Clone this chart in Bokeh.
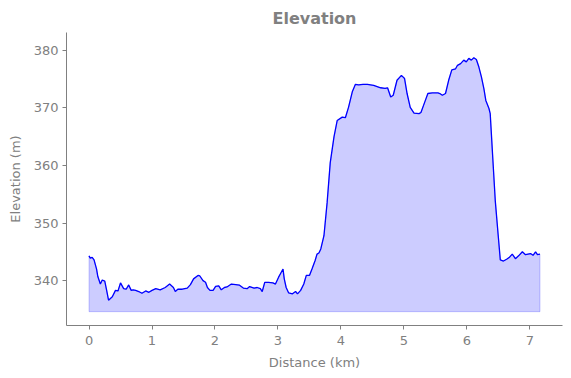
from bokeh.plotting import figure
from bokeh.models import Range1d, FixedTicker
from bokeh.embed import file_html
from bokeh.resources import INLINE

distance_km = [0.00, 0.02, 0.05, 0.08, 0.12, 0.14, 0.18, 0.21, 0.25, 0.28, 0.31, 0.34, 0.37, 0.42, 0.46,
               0.50, 0.55, 0.59, 0.63, 0.67, 0.70, 0.74, 0.79, 0.84, 0.90, 0.95, 1.00, 1.06, 1.13, 1.21,
               1.28, 1.34, 1.37, 1.41, 1.48, 1.56, 1.61, 1.66, 1.73, 1.76, 1.81, 1.85, 1.88, 1.92, 1.97,
               2.01, 2.06, 2.10, 2.15, 2.19, 2.26, 2.33, 2.39, 2.45, 2.51, 2.55, 2.62, 2.67, 2.72, 2.75,
               2.79, 2.85, 2.92, 2.96, 3.01, 3.05, 3.08, 3.10, 3.13, 3.17, 3.23, 3.28, 3.31, 3.36, 3.41,
               3.45, 3.50, 3.54, 3.59, 3.62, 3.65, 3.68, 3.73, 3.78, 3.83, 3.89, 3.94, 4.02, 4.07, 4.12,
               4.18, 4.23, 4.28, 4.35, 4.42, 4.52, 4.63, 4.70, 4.74, 4.79, 4.83, 4.89, 4.96, 5.01, 5.05,
               5.10, 5.16, 5.24, 5.27, 5.33, 5.38, 5.45, 5.54, 5.57, 5.61, 5.66, 5.71, 5.76, 5.82, 5.85,
               5.90, 5.95, 5.99, 6.03, 6.07, 6.11, 6.15, 6.19, 6.23, 6.27, 6.30, 6.35, 6.37, 6.41, 6.45,
               6.49, 6.53, 6.58, 6.63, 6.67, 6.72, 6.77, 6.82, 6.88, 6.93, 6.97, 7.01, 7.05, 7.09, 7.12,
               7.16]
elevation_m = [344.3, 343.9, 344.05, 343.6, 342.0, 340.7, 339.4, 340.1, 339.9, 338.3, 336.6, 336.9, 337.2, 338.3, 338.2,
               339.6, 338.6, 338.5, 339.25, 338.3, 338.4, 338.3, 338.1, 337.8, 338.2, 337.97, 338.3, 338.6, 338.4, 338.8,
               339.4, 338.8, 338.1, 338.5, 338.5, 338.7, 339.3, 340.3, 340.9, 340.8, 340.0, 339.7, 338.8, 338.3, 338.3,
               339.0, 339.1, 338.4, 338.8, 338.9, 339.4, 339.3, 339.2, 338.7, 338.6, 338.96, 338.7, 338.8, 338.6, 338.1,
               339.7, 339.7, 339.6, 339.4, 340.6, 341.4, 342.0, 340.3, 338.8, 337.85, 337.7, 338.1, 337.7, 338.3, 339.4,
               340.9, 340.9, 342.0, 343.5, 344.6, 344.8, 345.5, 347.8, 353.5, 360.5, 365.0, 367.8, 368.4, 368.3, 370.1,
               372.8, 374.1, 374.0, 374.1, 374.1, 373.9, 373.5, 373.4, 373.5, 371.9, 372.2, 374.8, 375.65, 375.1, 372.5,
               370.1, 369.1, 369.0, 369.2, 371.0, 372.5, 372.6, 372.6, 372.5, 372.2, 372.5, 374.8, 376.6, 376.8, 377.4,
               377.7, 378.3, 378.0, 378.6, 378.3, 378.7, 378.4, 377.1, 375.4, 373.3, 371.3, 369.9, 369.0, 361.4, 353.9,
               348.7, 343.6, 343.4, 343.7, 344.0, 344.6, 343.8, 344.3, 345.0, 344.5, 344.6, 344.7, 344.4, 345.0, 344.5,
               344.6]
fill_base_m = 334.6
x_ticks = [0, 1, 2, 3, 4, 5, 6, 7]
y_ticks = [340, 350, 360, 370, 380]

GRAY = "#808080"
FONT = "DejaVu Sans"

p = figure(width=571, height=378, output_backend="svg", toolbar_location=None,
           x_range=Range1d(-0.3575, 7.5175), y_range=Range1d(332.2, 383.1),
           min_border_left=66, min_border_right=9, min_border_top=32, min_border_bottom=53,
           title="Elevation")
p.outline_line_color = None
p.grid.visible = False
p.background_fill_color = "white"
p.border_fill_color = "white"

p.title.align = "center"
p.title.text_font = FONT
p.title.text_font_size = "16px"
p.title.text_font_style = "bold"
p.title.text_color = GRAY

poly_x = distance_km + [distance_km[-1], distance_km[0]]
poly_y = elevation_m + [fill_base_m, fill_base_m]
p.patch(poly_x, poly_y, fill_color="blue", fill_alpha=0.2, line_color="blue", line_alpha=0.2, line_width=1)
p.line(distance_km, elevation_m, line_color="blue", line_width=1.3)

for ax in (p.xaxis[0], p.yaxis[0]):
    ax.axis_line_color = GRAY
    ax.major_tick_line_color = GRAY
    ax.minor_tick_line_color = None
    ax.major_tick_in = 0
    ax.major_tick_out = 4
    ax.major_label_text_color = GRAY
    ax.major_label_text_font = FONT
    ax.major_label_text_font_size = "13px"
    ax.axis_label_text_color = GRAY
    ax.axis_label_text_font = FONT
    ax.axis_label_text_font_size = "13px"
    ax.axis_label_text_font_style = "normal"

p.xaxis.ticker = FixedTicker(ticks=x_ticks)
p.yaxis.ticker = FixedTicker(ticks=y_ticks)
p.xaxis.axis_label = "Distance (km)"
p.yaxis.axis_label = "Elevation (m)"
p.xaxis.major_label_standoff = 6
p.yaxis.major_label_standoff = 4
p.xaxis.axis_label_standoff = 7
p.yaxis.axis_label_standoff = 8

open("out.html", "w").write(file_html(p, INLINE))
